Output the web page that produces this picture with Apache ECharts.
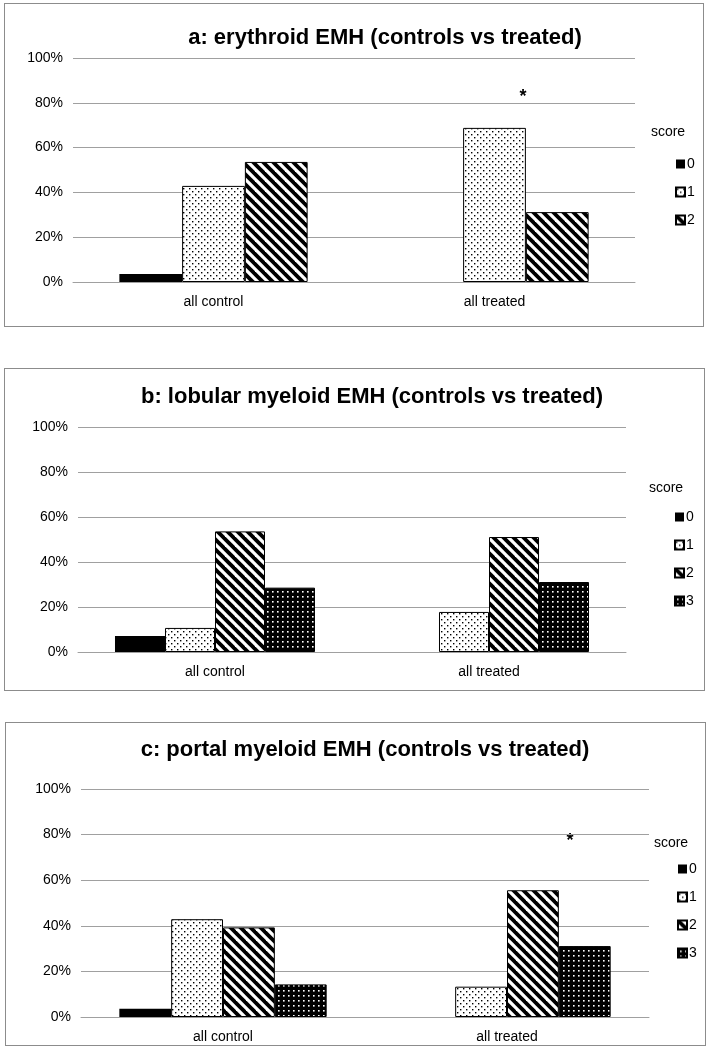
<!DOCTYPE html>
<html>
<head>
<meta charset="utf-8">
<script src="https://cdn.jsdelivr.net/npm/echarts@6/dist/echarts.min.js"></script>
<style>
  html, body { margin: 0; padding: 0; background: #fff; }
  .panel { position: absolute; border: 1px solid #8c8c8c; box-sizing: border-box; background: #fff; }
</style>
</head>
<body>
<div id="pa" class="panel" style="left:4px; top:3px; width:700px; height:324px;"></div>
<div id="pb" class="panel" style="left:4px; top:368px; width:701px; height:323px;"></div>
<div id="pc" class="panel" style="left:5px; top:722px; width:701px; height:324px;"></div>
<script>
// ---------- data ----------
const categories = ['all control', 'all treated'];
const scoresA = ['0', '1', '2'];
const scoresBC = ['0', '1', '2', '3'];
const yTickValues = [0, 20, 40, 60, 80, 100];

const titleA = 'a: erythroid EMH (controls vs treated)';
const titleB = 'b: lobular myeloid EMH (controls vs treated)';
const titleC = 'c: portal myeloid EMH (controls vs treated)';
const legendTitle = 'score';
const significanceMark = '*';

const aScore0 = [3.6, 0];
const aScore1 = [42.9, 68.8];
const aScore2 = [53.6, 31.2];

const bScore0 = [7.1, 0];
const bScore1 = [10.7, 17.8];
const bScore2 = [53.6, 51.1];
const bScore3 = [28.6, 31.1];

const cScore0 = [3.6, 0];
const cScore1 = [42.9, 13.3];
const cScore2 = [39.3, 55.6];
const cScore3 = [14.3, 31.1];

// ---------- patterns ----------
function dotPattern(fg, bg, size, dots, d) {
  const c = document.createElement('canvas');
  c.width = size; c.height = size;
  const g = c.getContext('2d');
  g.fillStyle = bg; g.fillRect(0, 0, size, size);
  g.fillStyle = fg;
  dots.forEach(p => g.fillRect(p[0], p[1], d, d));
  return { image: c, repeat: 'repeat' };
}
function stripePattern(size, lw) {
  const c = document.createElement('canvas');
  c.width = size; c.height = size;
  const g = c.getContext('2d');
  g.fillStyle = '#fff'; g.fillRect(0, 0, size, size);
  g.strokeStyle = '#000'; g.lineWidth = lw;
  [-size, 0, size].forEach(o => {
    g.beginPath(); g.moveTo(o - 2, -2); g.lineTo(o + size + 2, size + 2); g.stroke();
  });
  return { image: c, repeat: 'repeat' };
}
const fillSolid = '#000';
const fillDots = dotPattern('#000', '#fff', 6, [[1, 1], [4, 4]], 1.4);
const fillStripes = stripePattern(10, 3.8);
const fillDarkDots = dotPattern('#fff', '#000', 5, [[2, 2]], 1.6);
const fills = [fillSolid, fillDots, fillStripes, fillDarkDots];

const FONT = 'Liberation Sans, Arial, sans-serif';

function makeOption(cfg) {
  const series = cfg.values.map((vals, i) => ({
    name: cfg.scores[i],
    type: 'bar',
    data: vals,
    barGap: '0%',
    barCategoryGap: cfg.catGap,
    itemStyle: { color: fills[i], borderColor: '#000', borderWidth: i === 0 ? 0 : 1 },
    emphasis: { disabled: true },
    animation: false
  }));
  return {
    animation: false,
    title: {
      text: cfg.title,
      left: cfg.titleX, top: cfg.titleY, textAlign: 'center',
      textStyle: { fontFamily: FONT, fontWeight: 'bold', fontSize: 22, color: '#000' }
    },
    legend: {
      orient: 'vertical',
      left: cfg.legendX, top: cfg.legendY,
      itemWidth: 9, itemHeight: 9, itemGap: cfg.legendGap,
      icon: 'rect',
      selectedMode: false,
      textStyle: { fontFamily: FONT, fontSize: 14, color: '#000', padding: [0, 0, 0, -3] },
      data: cfg.scores
    },
    graphic: [
      { type: 'text', x: cfg.scoreX, y: cfg.scoreY,
        style: { text: legendTitle, font: '14px ' + FONT, fill: '#000', textAlign: 'center', textVerticalAlign: 'middle' } }
    ].concat(cfg.star ? [
      { type: 'text', x: cfg.star[0], y: cfg.star[1],
        style: { text: significanceMark, font: 'bold 18px ' + FONT, fill: '#000', textAlign: 'center', textVerticalAlign: 'middle' } }
    ] : []),
    grid: cfg.grid,
    xAxis: {
      type: 'category', data: categories,
      axisLine: { lineStyle: { color: '#a0a0a0', width: 1 } },
      axisTick: { show: false },
      axisLabel: { fontFamily: FONT, fontSize: 14, color: '#000', margin: 13 }
    },
    yAxis: {
      type: 'value', min: yTickValues[0], max: yTickValues[yTickValues.length - 1], interval: yTickValues[1] - yTickValues[0],
      axisLine: { show: false }, axisTick: { show: false },
      axisLabel: { fontFamily: FONT, fontSize: 14, color: '#000', margin: 10, formatter: '{value}%' },
      splitLine: { lineStyle: { color: '#a0a0a0', width: 1 } }
    },
    series: series
  };
}

const cfgA = {
  title: titleA, titleX: 375, titleY: 18,
  scores: scoresA, values: [aScore0, aScore1, aScore2], catGap: '33%',
  grid: { left: 68, right: 68, top: 54, bottom: 44 },
  legendX: 665, legendY: 148, legendGap: 14,
  scoreX: 663, scoreY: 128,
  star: [518, 93]
};
const cfgB = {
  title: titleB, titleX: 362, titleY: 12,
  scores: scoresBC, values: [bScore0, bScore1, bScore2, bScore3], catGap: '27%',
  grid: { left: 73, right: 78, top: 58, bottom: 38 },
  legendX: 664, legendY: 136, legendGap: 14,
  scoreX: 661, scoreY: 119
};
const cfgC = {
  title: titleC, titleX: 354, titleY: 11,
  scores: scoresBC, values: [cScore0, cScore1, cScore2, cScore3], catGap: '27%',
  grid: { left: 75, right: 56, top: 66, bottom: 28 },
  legendX: 666, legendY: 134, legendGap: 14,
  scoreX: 665, scoreY: 120,
  star: [564, 118]
};

[['pa', cfgA], ['pb', cfgB], ['pc', cfgC]].forEach(([id, cfg]) => {
  const chart = echarts.init(document.getElementById(id), null, { renderer: 'canvas' });
  chart.setOption(makeOption(cfg));
});
</script>
</body>
</html>
